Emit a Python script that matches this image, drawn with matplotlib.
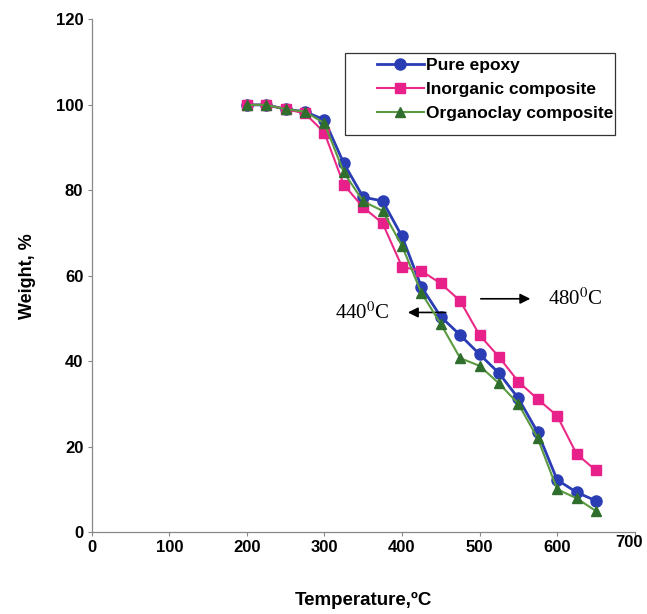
import numpy as np
import matplotlib
matplotlib.use("Agg")
import matplotlib.pyplot as plt
from matplotlib.patches import Rectangle
from matplotlib.transforms import ScaledTranslation

plt.rcParams['font.family'] = ['Liberation Sans', 'DejaVu Sans']
plt.rcParams['mathtext.fontset'] = 'stix'

# data
temperature = [200, 225, 250, 275, 300, 325, 350, 375, 400, 425,
               450, 475, 500, 525, 550, 575, 600, 625, 650]
pure_epoxy = [100, 100, 99, 98.4, 96.5, 86.3, 78.4, 77.5, 69.2, 57.4,
              50.4, 46.1, 41.6, 37.2, 31.3, 23.3, 12.2, 9.3, 7.3]
inorganic = [100, 100, 99, 98, 93.5, 81.3, 76, 72.3, 62.1, 61.1,
             58.2, 54.1, 46.1, 41, 35.2, 31.1, 27.2, 18.3, 14.4]
organoclay = [100, 100, 99, 98.4, 95.7, 84.2, 77.4, 75.2, 67, 56,
              48.7, 40.7, 38.9, 34.8, 30, 21.9, 10, 7.9, 4.9]

x_ticks = [0, 100, 200, 300, 400, 500, 600, 700]
y_ticks = [0, 20, 40, 60, 80, 100, 120]

fig = plt.figure(figsize=(6.47, 6.14), dpi=100)
ax = fig.add_axes([0.1417, 0.1336, 0.8393, 0.8347])

ax.plot(temperature, pure_epoxy, color='#2a3db5', lw=2.0, marker='o',
        markersize=8, markerfacecolor='#2a3db5', markeredgecolor='#2a3db5',
        label='Pure epoxy', zorder=3)
ax.plot(temperature, inorganic, color='#ea2a86', lw=1.5, marker='s',
        markersize=6.5, markerfacecolor='#e8208a', markeredgecolor='#e8208a',
        label='Inorganic composite', zorder=4)
ax.plot(temperature, organoclay, color='#5a9a40', lw=1.5, marker='^',
        markersize=6.5, markerfacecolor='#2f6e2c', markeredgecolor='#2f6e2c',
        label='Organoclay composite', zorder=5)

ax.set_xlim(0, 700)
ax.set_ylim(0, 120)
ax.set_xticks(x_ticks)
ax.set_yticks(y_ticks)

for s in ['top', 'right']:
    ax.spines[s].set_visible(False)
for s in ['left', 'bottom']:
    ax.spines[s].set_color('#888888')
    ax.spines[s].set_linewidth(0.9)
ax.tick_params(direction='out', length=3, width=0.8, color='#888888',
               labelsize=12, pad=3)
for lab in ax.get_xticklabels() + ax.get_yticklabels():
    lab.set_fontweight('bold')
# the last x label sits a little higher and inward in the original
last = ax.get_xticklabels()[-1]
last.set_transform(last.get_transform() +
                   ScaledTranslation(-6 / 100, 5 / 100, fig.dpi_scale_trans))

ax.set_xlabel('Temperature,ºC', fontsize=13.5, fontweight='bold')
ax.xaxis.set_label_coords(0.5, -0.117)
ax.set_ylabel('Weight, %', fontsize=13, fontweight='bold')
ax.yaxis.set_label_coords(-0.103, 0.5)

# legend frame drawn separately so the entries can sit inset like the original
ax.add_patch(Rectangle((0.466, 0.775), 0.497, 0.16, transform=ax.transAxes,
                       fill=False, edgecolor='#333333', lw=0.9, zorder=6,
                       clip_on=False))
leg = ax.legend(loc='upper left', bbox_to_anchor=(0.525, 0.925),
                prop={'weight': 'bold', 'size': 12.5}, frameon=False,
                handlelength=2.7, handletextpad=0.15, labelspacing=0.5,
                borderpad=0, borderaxespad=0)

# onset annotations
ax.annotate('', xy=(404, 51.4), xytext=(460, 51.4),
            arrowprops=dict(arrowstyle='-|>', color='black', lw=1.2,
                            mutation_scale=15))
ax.text(349, 51.3, r'440$^{\mathrm{0}}$C', family='Liberation Serif',
        fontsize=15, ha='center', va='center')
ax.annotate('', xy=(569, 54.6), xytext=(498, 54.6),
            arrowprops=dict(arrowstyle='-|>', color='black', lw=1.2,
                            mutation_scale=15))
ax.text(624, 54.6, r'480$^{\mathrm{0}}$C', family='Liberation Serif',
        fontsize=15, ha='center', va='center')

fig.savefig('out.png', dpi=100)
